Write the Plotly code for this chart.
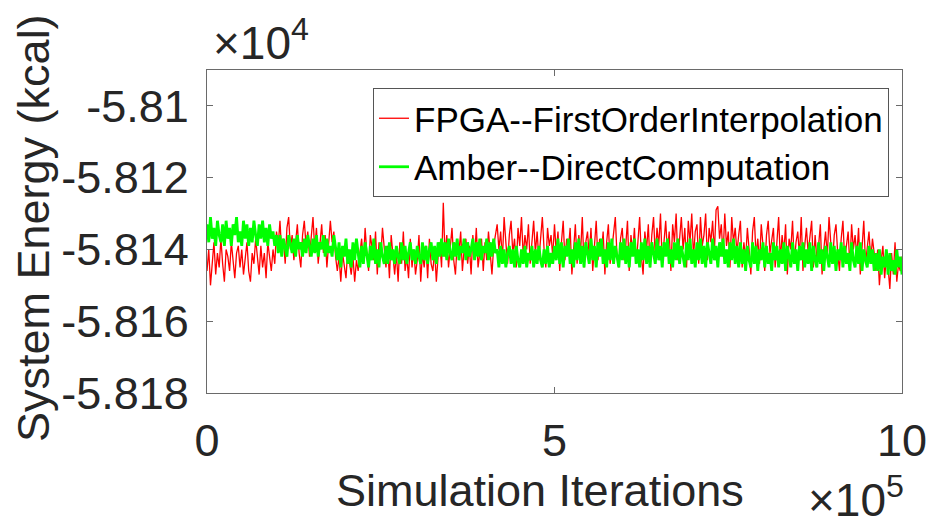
import plotly.graph_objects as go

# ---- data ----
series_names = ["FPGA--FirstOrderInterpolation", "Amber--DirectComputation"]
iteration_step = 2500  # one sample every 2500 iterations

fpga_energy = [
    -58146, -58140, -58150, -58143, -58138, -58147, -58141, -58145, -58137, -58144, -58149, -58140, -58142, -58146, -58138, -58143, -58148, -58141, -58139, -58145,
    -58140, -58147, -58143, -58138, -58146, -58149, -58141, -58144, -58137, -58142, -58147, -58139, -58145, -58141, -58148, -58138, -58143, -58146, -58140, -58144,
    -58135, -58139, -58132, -58141, -58137, -58144, -58134, -58131, -58140, -58136, -58143, -58138, -58133, -58141, -58145, -58136, -58132, -58139, -58135, -58142,
    -58137, -58131, -58140, -58134, -58144, -58138, -58133, -58141, -58136, -58145, -58139, -58132, -58138, -58135, -58142,
    -58146, -58142, -58149, -58141, -58145, -58148, -58140, -58144, -58147, -58142, -58149, -58143, -58146, -58141,
    -58137, -58144, -58134, -58141, -58146, -58136, -58139, -58143, -58135, -58147, -58138, -58142, -58134, -58140,
    -58145, -58139, -58148, -58136, -58143, -58147, -58141, -58149, -58138, -58144, -58135, -58146, -58142, -58148, -58137, -58145, -58140,
    -58147, -58143, -58136, -58149, -58141, -58145, -58139, -58148, -58137, -58144, -58146, -58140, -58149, -58142, -58138, -58145,
    -58127,
    -58142, -58136, -58145, -58139, -58134, -58143, -58147, -58138, -58141, -58135, -58146, -58140, -58137, -58144, -58139,
    -58147, -58136, -58142, -58134, -58145, -58140, -58137, -58146, -58138, -58143, -58135, -58141, -58147, -58139, -58136,
    -58133, -58140, -58135, -58143, -58131, -58138, -58144, -58136, -58132, -58141, -58137, -58145, -58134, -58139, -58131, -58142, -58136,
    -58140, -58133, -58144, -58137, -58132, -58141, -58135, -58143, -58138, -58131, -58140, -58145, -58134, -58139, -58136, -58142, -58133,
    -58141, -58135, -58146, -58138, -58132, -58143, -58137, -58140, -58134, -58147, -58139, -58133, -58144, -58136, -58141, -58131, -58145, -58138, -58135, -58142,
    -58134, -58146, -58139, -58132, -58143, -58137, -58141, -58135, -58147, -58138, -58133, -58144, -58140, -58136, -58131, -58142, -58145, -58137, -58134, -58143,
    -58139, -58132, -58146, -58136, -58141, -58134, -58144, -58138, -58131, -58142, -58147, -58135, -58140, -58133, -58145,
    -58136, -58131, -58142, -58134, -58139, -58130, -58144, -58137, -58132, -58141, -58135, -58146, -58133, -58138, -58130, -58143, -58136, -58131, -58140, -58134,
    -58145, -58132, -58138, -58130, -58142, -58135, -58133, -58144, -58131, -58139, -58136, -58130, -58143, -58134, -58138, -58132, -58141, -58129, -58128, -58137,
    -58133, -58142, -58130, -58139, -58135, -58145, -58131, -58138, -58134,
    -58141, -58136, -58132, -58145, -58138, -58143, -58134, -58140, -58147, -58135, -58131, -58142, -58137, -58144, -58133, -58139, -58146, -58136, -58132, -58141,
    -58138, -58134, -58145, -58139, -58131, -58143, -58136, -58141, -58133, -58147, -58137, -58140, -58132, -58144, -58138, -58135, -58142, -58131, -58146, -58139,
    -58134, -58141, -58137, -58132, -58145, -58136, -58143, -58139, -58133, -58147, -58140, -58135, -58142, -58131, -58138, -58144, -58136, -58133, -58141, -58146,
    -58137, -58132, -58143, -58139, -58135, -58145, -58133, -58140, -58136, -58142, -58134, -58147, -58138, -58132, -58144, -58139, -58135, -58143, -58137, -58141,
    -58146, -58140, -58150, -58143, -58139, -58148, -58142, -58145, -58151, -58141, -58147, -58138, -58149, -58144, -58146, -58142,
]

amber_energy = [
    -58133, -58138, -58131, -58137, -58134, -58139, -58132, -58136, -58138, -58133, -58139, -58132, -58137, -58134, -58139, -58133, -58136, -58131, -58138, -58135,
    -58139, -58132, -58137, -58133, -58139, -58134, -58138, -58132, -58136, -58139, -58133, -58137, -58132, -58138, -58134, -58139, -58133, -58137, -58135, -58139, -58136,
    -58141, -58136, -58142, -58137, -58140, -58142, -58136, -58139, -58141, -58137, -58142, -58136, -58140, -58138, -58142, -58137, -58141, -58136, -58139, -58142,
    -58137, -58141, -58136, -58142, -58138, -58140, -58136, -58142, -58137, -58141, -58139, -58142, -58136, -58140,
    -58143, -58138, -58145, -58139, -58142, -58137, -58144, -58140, -58145, -58138, -58143, -58137, -58141, -58145, -58139, -58144, -58138, -58142, -58145, -58139,
    -58143, -58137, -58144, -58140, -58145, -58138, -58142, -58144,
    -58139, -58144, -58138, -58143, -58140, -58144, -58139, -58142, -58144, -58138, -58143, -58139, -58144, -58141, -58138, -58143, -58140, -58144, -58139, -58142,
    -58144, -58138, -58143, -58139, -58144, -58140, -58138, -58143, -58139, -58144, -58138, -58142,
    -58137, -58142, -58138, -58143, -58137, -58141, -58143, -58138, -58142, -58137, -58143, -58139, -58141, -58137, -58143, -58138, -58142, -58140, -58137, -58143,
    -58138, -58142, -58137, -58143, -58139, -58141, -58137, -58143, -58138, -58142, -58137, -58141,
    -58140, -58145, -58139, -58144, -58140, -58145, -58141, -58139, -58144, -58140, -58145, -58139, -58143, -58145, -58140, -58144, -58139, -58145, -58141, -58143,
    -58139, -58145, -58140, -58144, -58139, -58143, -58145, -58140, -58144, -58139, -58145, -58141, -58144, -58139,
    -58143, -58137, -58144, -58138, -58145, -58139, -58142, -58137, -58144, -58140, -58145, -58138, -58143, -58137, -58144, -58139, -58145, -58138, -58141, -58144,
    -58137, -58143, -58139, -58145, -58138, -58142, -58137, -58144, -58140, -58145, -58138, -58143, -58137, -58144, -58139, -58142, -58145, -58138, -58143, -58137,
    -58144, -58139, -58145, -58138, -58142, -58137, -58144, -58140, -58145, -58138, -58143, -58137, -58144, -58139, -58145, -58138, -58141, -58144, -58137, -58143,
    -58139, -58145, -58138, -58142, -58137, -58144, -58140, -58145, -58138, -58143, -58137, -58144, -58139, -58142, -58145, -58138, -58143, -58137, -58144, -58140,
    -58145, -58138, -58143, -58137, -58144, -58139, -58145, -58138, -58141, -58144, -58137, -58143, -58139, -58145, -58138, -58142, -58137, -58144, -58140, -58145,
    -58138, -58143, -58137, -58144,
    -58139, -58145, -58138, -58144, -58140, -58146, -58139, -58143, -58145, -58138, -58144, -58139, -58146, -58140, -58143, -58138, -58145, -58139, -58144, -58141,
    -58146, -58138, -58143, -58139, -58145, -58140, -58144, -58138, -58146, -58139, -58142, -58145, -58138, -58144, -58140, -58146, -58139, -58143, -58138, -58145,
    -58140, -58144, -58138, -58146, -58139, -58143, -58145, -58138, -58144, -58140, -58146, -58139, -58142, -58145, -58138, -58144, -58139, -58146, -58140, -58143,
    -58138, -58145, -58139, -58144, -58141, -58146, -58138, -58143, -58145, -58139, -58144, -58138, -58146, -58140, -58143, -58145, -58139, -58144, -58140, -58146,
    -58141, -58146, -58140, -58147, -58142, -58145, -58140, -58147, -58141, -58146, -58143, -58147, -58140, -58145, -58142, -58147,
]

fpga_iter = [i * iteration_step for i in range(len(fpga_energy))]
amber_iter = [i * iteration_step for i in range(len(amber_energy))]

x_tick_vals = [0, 500000, 1000000]
x_tick_text = ["0", "5", "10"]
y_tick_vals = [-58180, -58160, -58140, -58120, -58100]
y_tick_text = ["-5.818", "-5.816", "-5.814", "-5.812", "-5.81"]

# ---- figure ----
W, H = 930, 527
L, R, T, B = 207, 28, 70, 134
PW, PH = W - L - R, H - T - B

def px(xpix):
    return (xpix - L) / PW

def py(ypix):
    return (H - B - ypix) / PH

FONT = "Liberation Sans, Arial, Helvetica, sans-serif"
AXC = "#6a6a6a"
TXT = "#262626"

fig = go.Figure()
fig.add_trace(go.Scatter(x=fpga_iter, y=fpga_energy, mode="lines", name=series_names[0],
                         line=dict(color="#ff0000", width=1.3)))
fig.add_trace(go.Scatter(x=amber_iter, y=amber_energy, mode="lines", name=series_names[1],
                         line=dict(color="#00ff00", width=2.8)))

axis_common = dict(showgrid=False, zeroline=False, showline=True, linecolor=AXC, linewidth=1.3,
                   mirror="ticks", ticks="inside", ticklen=6, tickcolor=AXC, tickwidth=1,
                   tickfont=dict(family=FONT, size=45, color=TXT))

fig.update_layout(
    width=W, height=H,
    margin=dict(l=L, r=R, t=T, b=B, autoexpand=False),
    paper_bgcolor="white", plot_bgcolor="white",
    showlegend=True,
    legend=dict(x=px(889), y=py(88), xanchor="right", yanchor="top",
                bgcolor="white", bordercolor="#555555", borderwidth=1,
                font=dict(family=FONT, size=35, color="black"),
                itemwidth=30, tracegroupgap=0),
    xaxis=dict(range=[0, 1000000], tickvals=x_tick_vals, ticktext=x_tick_text,
               ticklabelstandoff=8, **axis_common),
    yaxis=dict(range=[-58180, -58090], tickvals=y_tick_vals, ticktext=y_tick_text,
               ticklabelstandoff=8, **axis_common),
)

fig.add_annotation(xref="paper", yref="paper", x=px(540), y=py(490),
                   text="Simulation Iterations", showarrow=False,
                   xanchor="center", yanchor="middle",
                   font=dict(family=FONT, size=45, color=TXT))
fig.add_annotation(xref="paper", yref="paper", x=px(33), y=py(228),
                   text="System Energy (kcal)", showarrow=False, textangle=-90,
                   xanchor="center", yanchor="middle",
                   font=dict(family=FONT, size=45, color=TXT))
fig.add_annotation(xref="paper", yref="paper", x=px(211), y=py(71),
                   text="×10<sup>4</sup>", showarrow=False,
                   xanchor="left", yanchor="bottom",
                   font=dict(family=FONT, size=46, color=TXT))
fig.add_annotation(xref="paper", yref="paper", x=px(906), y=py(528),
                   text="×10<sup>5</sup>", showarrow=False,
                   xanchor="right", yanchor="bottom",
                   font=dict(family=FONT, size=46, color=TXT))

fig.write_html("out.html", config={"displayModeBar": False},
               post_script="document.body.style.margin='0px';document.body.style.overflow='hidden';")
